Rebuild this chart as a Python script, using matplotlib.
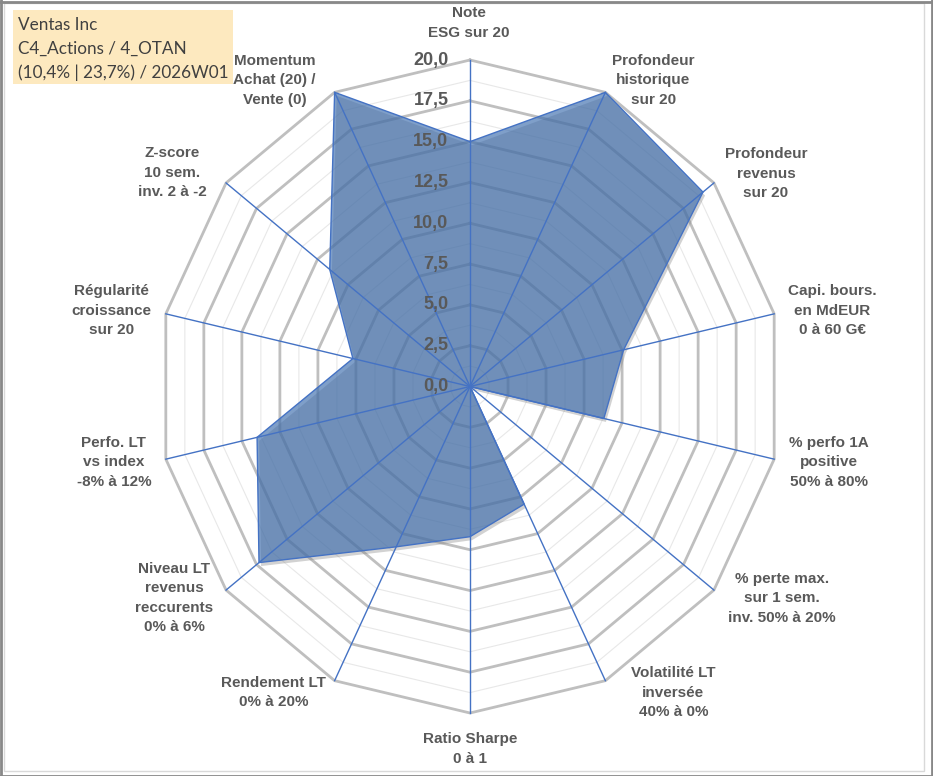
import matplotlib
matplotlib.use("Agg")
import numpy as np
import matplotlib.pyplot as plt
from matplotlib import patheffects as pe
from matplotlib.patches import Rectangle
from matplotlib.lines import Line2D

# ---------------- data ----------------
categories = [
    "Note\nESG sur 20",
    "Profondeur\nhistorique\nsur 20",
    "Profondeur\nrevenus\nsur 20",
    "Capi. bours.\nen MdEUR\n0 à 60 G€",
    "% perfo 1A\npositive\n50% à 80%",
    "% perte max.\nsur 1 sem.\ninv. 50% à 20%",
    "Volatilité LT\ninversée\n40% à 0%",
    "Ratio Sharpe\n0 à 1",
    "Rendement LT\n0% à 20%",
    "Niveau LT\nrevenus\nreccurents\n0% à 6%",
    "Perfo. LT\nvs index\n-8% à 12%",
    "Régularité\ncroissance\nsur 20",
    "Z-score\n10 sem.\ninv. 2 à -2",
    "Momentum\nAchat (20) /\nVente (0)",
]
values = [15.0, 20.0, 19.1, 10.1, 8.8, 0.0, 8.0, 9.2, 10.9, 17.3, 14.0, 7.7, 11.5, 20.0]
major_ticks = [0.0, 2.5, 5.0, 7.5, 10.0, 12.5, 15.0, 17.5, 20.0]
tick_labels = ["0,0", "2,5", "5,0", "7,5", "10,0", "12,5", "15,0", "17,5", "20,0"]
minor_ticks = [1.25, 3.75, 6.25, 8.75, 11.25, 13.75, 16.25, 18.75]
header_lines = ["Ventas Inc", "C4_Actions / 4_OTAN", "(10,4% | 23,7%) / 2026W01"]

# ---------------- layout ----------------
W_PX, H_PX = 933, 776
fig = plt.figure(figsize=(W_PX / 100, H_PX / 100), dpi=100)
fig.patch.set_facecolor("white")

cx, cy = 470, 386.5       # centre (px from top-left)
rx, ry = 312, 326.5       # radius of outer ring (px)
ax = fig.add_axes([(cx - rx) / W_PX, (H_PX - cy - ry) / H_PX, 2 * rx / W_PX, 2 * ry / H_PX],
                  projection="polar")
ax.set_theta_zero_location("N")
ax.set_theta_direction(-1)
ax.set_ylim(0, 20)
ax.set_aspect("auto")
ax.axis("off")

n = len(categories)
angles = np.arange(n) * 2 * np.pi / n
ang_c = np.append(angles, angles[0])
val_c = np.append(values, values[0])

# grid rings
for r in minor_ticks:
    ax.plot(ang_c, [r] * (n + 1), color="#E8E8E8", lw=0.8, zorder=1, clip_on=False)
for r in major_ticks[1:]:
    ax.plot(ang_c, [r] * (n + 1), color="#BFBFBF", lw=2.0, zorder=2, clip_on=False,
            solid_joinstyle="miter")

# series
ax.fill(ang_c, val_c, facecolor="#3D6DAD", alpha=0.66, edgecolor="none", zorder=3,
        clip_on=False,
        path_effects=[pe.withSimplePatchShadow(offset=(1.5, -2.5), shadow_rgbFace="#808080", alpha=0.35)])
ax.plot(ang_c, val_c, color="#4472C4", lw=1.0, zorder=4, clip_on=False)

# spokes
for a in angles:
    ax.plot([a, a], [0, 20], color="#4472C4", lw=1.0, zorder=5, clip_on=False)

# radial tick labels
for v, lab in zip(major_ticks, tick_labels):
    ax.annotate(lab, xy=(0, v), xytext=(-15.5, 0), textcoords="offset points",
                ha="right", va="center", fontsize=13, fontweight="bold",
                color="#595959", family="Liberation Sans", zorder=7)

# category labels (offsets in px from outer vertex: +x right, +y down)
label_offsets_px = [(-1, -37), (48, -12), (52, -9), (58, -3), (55, 3), (68, 8), (68, 12),
                    (0, 36), (-61, 12), (-52, 8), (-52, 3), (-54, -3), (-54, -10), (-60, -12)]
for a, lab, (dx, dy) in zip(angles, categories, label_offsets_px):
    ax.annotate(lab, xy=(a, 20), xytext=(dx * 0.72, -dy * 0.72), textcoords="offset points",
                ha="center", va="center", multialignment="center", fontsize=11,
                fontweight="bold", color="#595959", family="Liberation Sans",
                linespacing=1.5, zorder=7)

# header box
fig.patches.append(Rectangle((13 / W_PX, 1 - 84 / H_PX), 220 / W_PX, 74 / H_PX,
                             transform=fig.transFigure, facecolor="#FDE9BF",
                             edgecolor="none", zorder=0))
for i, line in enumerate(header_lines):
    fig.text(18 / W_PX, 1 - (25 + 23.8 * i) / H_PX, line, ha="left", va="center",
             fontsize=12.3, color="#404040", family="Lato")

# chart borders
fig.patches.append(Rectangle((3.5 / W_PX, 5 / H_PX), 920 / W_PX, 768 / H_PX,
                             transform=fig.transFigure, facecolor="none",
                             edgecolor="#D9D9D9", lw=1.0))
for xs, ys in [((0.5, 0.5), (0, H_PX)), ((0, W_PX), (1.5, 1.5)),
               ((W_PX - 1.5, W_PX - 1.5), (0, H_PX)), ((0, W_PX), (H_PX - 0.5, H_PX - 0.5))]:
    fig.lines.append(Line2D([x / W_PX for x in xs], [1 - y / H_PX for y in ys],
                            transform=fig.transFigure, color="#888888", lw=2.0))

fig.savefig("out.png", dpi=100)
